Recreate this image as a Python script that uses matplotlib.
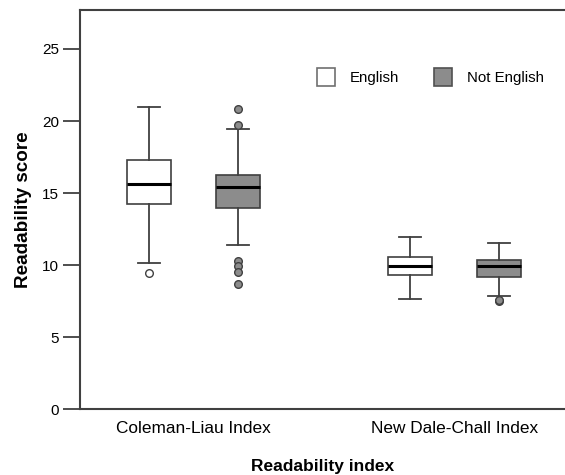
import matplotlib
matplotlib.use("Agg")
import matplotlib.pyplot as plt
from matplotlib.patches import Patch

plt.rcParams['font.family'] = ['Liberation Sans', 'DejaVu Sans']

indices = ["Coleman-Liau Index", "New Dale-Chall Index"]
groups = ["English", "Not English"]

# box stats: [Coleman-Liau, New Dale-Chall]
eng_whislo = [10.14, 7.64]
eng_q1 = [14.26, 9.35]
eng_med = [15.6, 9.95]
eng_q3 = [17.27, 10.56]
eng_whishi = [21.0, 11.97]
eng_fliers = [[9.47], []]

ne_whislo = [11.41, 7.85]
ne_q1 = [14.0, 9.21]
ne_med = [15.4, 9.95]
ne_q3 = [16.23, 10.37]
ne_whishi = [19.47, 11.55]
ne_fliers = [[20.85, 19.7, 10.3, 9.98, 9.55, 8.73], [7.5, 7.6]]

line_col = "#404040"
ne_fill = "#8c8c8c"


def stats(lo, q1, med, q3, hi, fl):
    out = []
    for i in range(len(lo)):
        out.append(dict(whislo=lo[i], q1=q1[i], med=med[i], q3=q3[i],
                        whishi=hi[i], fliers=fl[i]))
    return out


fig = plt.figure(figsize=(5.65, 4.75), dpi=100)
ax = fig.add_axes([0.1416, 0.138, 0.8584, 0.841])

centers = [1, 2]
off = 0.17
w = 0.168

common = dict(widths=w, patch_artist=True, showfliers=True,
              whiskerprops=dict(color=line_col, lw=1.3),
              capprops=dict(color=line_col, lw=1.3),
              medianprops=dict(color="black", lw=2.2),
              capwidths=w / 2)

ax.bxp(stats(eng_whislo, eng_q1, eng_med, eng_q3, eng_whishi, eng_fliers),
       positions=[c - off for c in centers],
       boxprops=dict(facecolor="white", edgecolor=line_col, lw=1.2),
       flierprops=dict(marker="o", markerfacecolor="white",
                       markeredgecolor=line_col, markersize=5.5, mew=1),
       **common)
ax.bxp(stats(ne_whislo, ne_q1, ne_med, ne_q3, ne_whishi, ne_fliers),
       positions=[c + off for c in centers],
       boxprops=dict(facecolor=ne_fill, edgecolor=line_col, lw=1.2),
       flierprops=dict(marker="o", markerfacecolor=ne_fill,
                       markeredgecolor=line_col, markersize=5.5, mew=1),
       **common)

ax.set_xlim(0.565, 2.423)
ax.set_ylim(0, 27.7)
ax.set_xticks(centers)
ax.set_xticklabels(indices, fontsize=12.4)
ax.set_yticks([0, 5, 10, 15, 20, 25])
ax.tick_params(axis="y", length=12, width=1.3, color=line_col, labelsize=11, pad=3)
ax.tick_params(axis="x", length=0, pad=8)
ax.spines["right"].set_visible(False)
for s in ["left", "top", "bottom"]:
    ax.spines[s].set_color(line_col)
    ax.spines[s].set_linewidth(1.5)

ax.set_ylabel("Readability score", fontsize=13.6, fontweight="bold", labelpad=7)
ax.set_xlabel("Readability index", fontsize=12.5, fontweight="bold", labelpad=17)

handles = [Patch(facecolor="white", edgecolor="#707070", lw=1.2),
           Patch(facecolor=ne_fill, edgecolor="#505050", lw=1.2)]
ax.legend(handles, groups, ncol=2, frameon=False, fontsize=10.8,
          loc="upper left", bbox_to_anchor=(0.473, 0.874), borderpad=0,
          handlelength=1.22, handleheight=1.5, handletextpad=1.0,
          columnspacing=2.3)

fig.savefig("out.png", dpi=100)
